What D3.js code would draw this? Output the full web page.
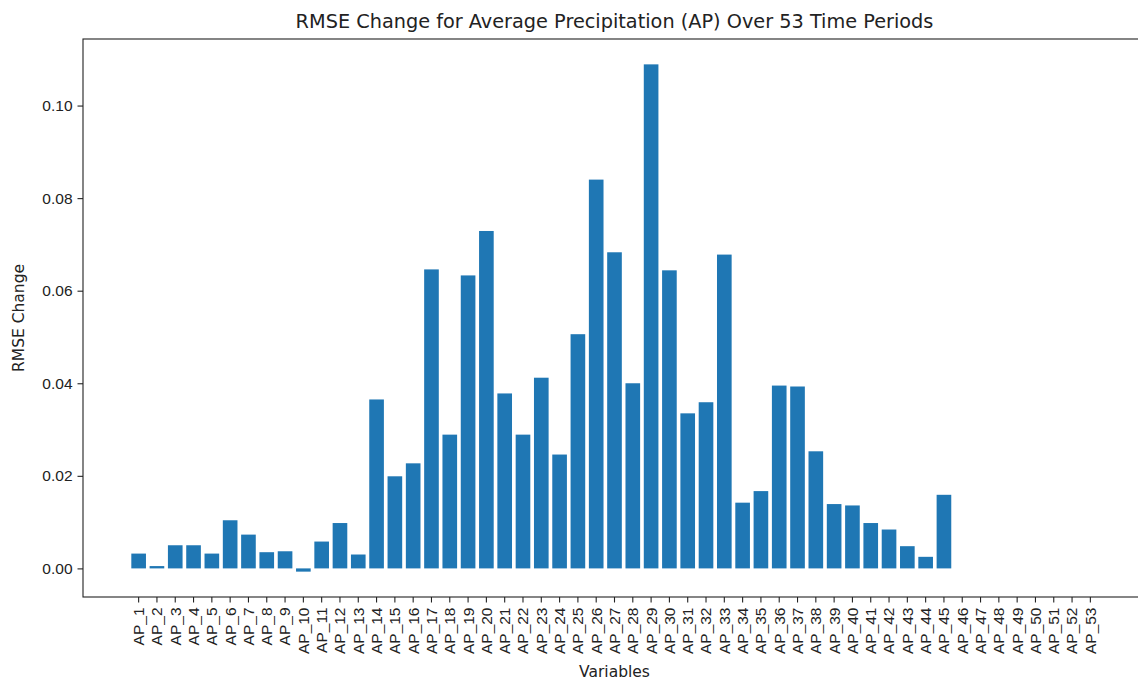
<!DOCTYPE html>
<html>
<head>
<meta charset="utf-8">
<script src="https://cdn.jsdelivr.net/npm/d3@7"></script>
<style>
  body { margin: 0; background: #fff; }
  svg { display: block; font-family: "DejaVu Sans", sans-serif; }
</style>
</head>
<body>
<div id="container"></div>
<script>
/* DATA */
const categories = [
  "AP_1", "AP_2", "AP_3", "AP_4", "AP_5", "AP_6", "AP_7", "AP_8", "AP_9", "AP_10",
  "AP_11", "AP_12", "AP_13", "AP_14", "AP_15", "AP_16", "AP_17", "AP_18", "AP_19", "AP_20",
  "AP_21", "AP_22", "AP_23", "AP_24", "AP_25", "AP_26", "AP_27", "AP_28", "AP_29", "AP_30",
  "AP_31", "AP_32", "AP_33", "AP_34", "AP_35", "AP_36", "AP_37", "AP_38", "AP_39", "AP_40",
  "AP_41", "AP_42", "AP_43", "AP_44", "AP_45", "AP_46", "AP_47", "AP_48", "AP_49", "AP_50",
  "AP_51", "AP_52", "AP_53"
];
const rmseChange = [
  0.0032, 0.0005, 0.0050, 0.0050, 0.0032, 0.0104, 0.0073, 0.0035, 0.0037, -0.0007,
  0.0058, 0.0098, 0.0030, 0.0365, 0.0199, 0.0227, 0.0646, 0.0289, 0.0633, 0.0729,
  0.0378, 0.0289, 0.0412, 0.0246, 0.0506, 0.0840, 0.0683, 0.0400, 0.1089, 0.0644,
  0.0335, 0.0359, 0.0678, 0.0142, 0.0167, 0.0395, 0.0393, 0.0253, 0.0139, 0.0136,
  0.0098, 0.0084, 0.0048, 0.0025, 0.0159, 0, 0, 0, 0, 0,
  0, 0, 0
];
const yTicks = [0, 0.02, 0.04, 0.06, 0.08, 0.10];

const titleText = "RMSE Change for Average Precipitation (AP) Over 53 Time Periods";
const xLabel = "Variables";
const yLabel = "RMSE Change";

/* CONSTANTS */
const width = 1138;
const height = 683;
const plot = { left: 83, right: 1146, top: 39, bottom: 597 };
const barColor = "#1f77b4";
const tickFont = 15.5;
const labelFont = 15.5;
const titleFont = 19.3;

const data = categories.map((c, i) => ({ name: c, value: rmseChange[i] }));

const svg = d3.select("#container")
  .append("svg")
  .attr("width", width)
  .attr("height", height);

/* SCALES */
// bars are 0.8 wide with 5% margin on each side, like matplotlib
const xScale = d3.scaleBand()
  .domain(categories)
  .range([plot.left, plot.right])
  .paddingInner(0.2)
  .paddingOuter(0.05 * (categories.length - 0.2));

const yMin = Math.min(0, d3.min(rmseChange));
const yMax = d3.max(rmseChange);
const pad = 0.05 * (yMax - yMin);
const yScale = d3.scaleLinear()
  .domain([yMin - pad, yMax + pad])
  .range([plot.bottom, plot.top]);

/* BARS */
svg.selectAll("rect.bar")
  .data(data)
  .join("rect")
  .attr("class", "bar")
  .attr("x", d => xScale(d.name))
  .attr("width", xScale.bandwidth())
  .attr("y", d => yScale(Math.max(0, d.value)))
  .attr("height", d => Math.abs(yScale(d.value) - yScale(0)))
  .attr("fill", barColor);

/* AXES */
const xAxis = d3.axisBottom(xScale).tickSize(5.5);
const yAxis = d3.axisLeft(yScale).tickValues(yTicks).tickFormat(d3.format(".2f")).tickSize(5.5).tickPadding(5);

const gx = svg.append("g")
  .attr("transform", `translate(0,${plot.bottom})`)
  .call(xAxis);
gx.select(".domain").remove();
gx.selectAll(".tick line").attr("stroke", "#222").attr("stroke-width", 1.1);
gx.selectAll(".tick text")
  .attr("font-size", tickFont)
  .attr("fill", "#222")
  .attr("transform", "rotate(-90)")
  .attr("text-anchor", "end")
  .attr("x", -10.5)
  .attr("y", 0)
  .attr("dy", "0.35em");

const gy = svg.append("g")
  .attr("transform", `translate(${plot.left},0)`)
  .call(yAxis);
gy.select(".domain").remove();
gy.selectAll(".tick line").attr("stroke", "#222").attr("stroke-width", 1.1);
gy.selectAll(".tick text").attr("font-size", tickFont).attr("fill", "#222");

/* FRAME */
svg.append("rect")
  .attr("x", plot.left)
  .attr("y", plot.top)
  .attr("width", plot.right - plot.left)
  .attr("height", plot.bottom - plot.top)
  .attr("fill", "none")
  .attr("stroke", "#222")
  .attr("stroke-width", 1.1);

/* LABELS */
svg.append("text")
  .attr("x", (plot.left + plot.right) / 2)
  .attr("y", 28)
  .attr("text-anchor", "middle")
  .attr("font-size", titleFont)
  .attr("fill", "#222")
  .text(titleText);

svg.append("text")
  .attr("x", (plot.left + plot.right) / 2)
  .attr("y", 677)
  .attr("text-anchor", "middle")
  .attr("font-size", labelFont)
  .attr("fill", "#222")
  .text(xLabel);

svg.append("text")
  .attr("transform", `translate(24,${(plot.top + plot.bottom) / 2}) rotate(-90)`)
  .attr("text-anchor", "middle")
  .attr("font-size", labelFont)
  .attr("fill", "#222")
  .text(yLabel);
</script>
</body>
</html>
